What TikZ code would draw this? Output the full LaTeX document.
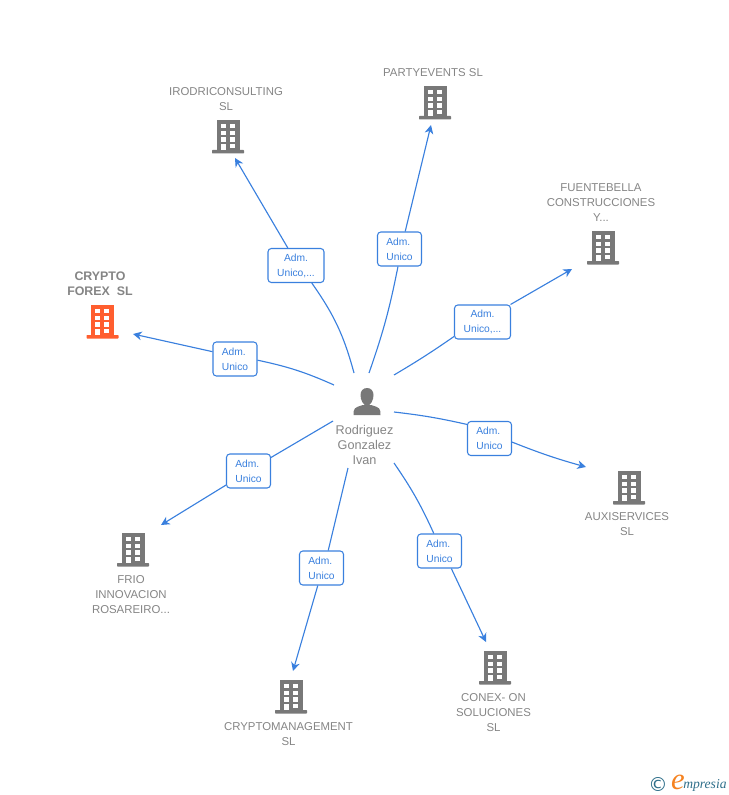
\documentclass[tikz,border=0pt]{standalone}
\usepackage{fontspec}
\setmainfont{Liberation Sans}
\newfontfamily\logofont{Liberation Serif}
\newfontfamily\copyfont{DejaVu Sans}
\usetikzlibrary{arrows.meta}
\definecolor{linkblue}{HTML}{3A80DE}
\definecolor{namegray}{HTML}{858585}
\definecolor{iconorange}{HTML}{FF5E2F}
\definecolor{icongray}{HTML}{787878}
\definecolor{logoteal}{HTML}{2F6F8A}
\definecolor{logoorange}{HTML}{F58220}
\tikzset{
  caption/.style={text=namegray, align=center, inner sep=0pt, font=\fontsize{8.55}{11.25}\selectfont},
  rolebox/.style={draw=linkblue, fill=white, rounded corners=2.5pt, line width=.8pt, text=linkblue, align=left,
    minimum height=25.5pt, minimum width=33pt, inner sep=0pt, font=\fontsize{7.7}{11.25}\selectfont},
  widebox/.style={rolebox, align=center, minimum width=42pt},
  link/.style={draw=linkblue, line width=.85pt},
  linkto/.style={link, -{Stealth[length=6.5pt,width=6.5pt,inset=2pt]}},
  bldg/.pic={
    \fill[pic actions] (-11.5,0) rectangle (11.5,32);
    \fill[pic actions, rounded corners=.5pt] (-16,30) rectangle (16,33.5);
    \foreach \wy in {4,10.7,17.3,24} {
      \fill[white] (-7.2,\wy) rectangle (-2.5,\wy+4.4);
      \fill[white] (1.8,\wy) rectangle (6.8,\wy+4.4);
    }
    \fill[white] (-7.2,24) rectangle (-2.5,30);
  }
}
\begin{document}
\begin{tikzpicture}[x=.75pt,y=-.75pt]
\useasboundingbox (0,0) rectangle (728,795);

% companies
\pic[fill=iconorange] at (102.5,305) {bldg};
\pic[fill=icongray] at (228,120) {bldg};
\pic[fill=icongray] at (435,86) {bldg};
\pic[fill=icongray] at (603,231) {bldg};
\pic[fill=icongray] at (629,471) {bldg};
\pic[fill=icongray] at (495,651) {bldg};
\pic[fill=icongray] at (291,680) {bldg};
\pic[fill=icongray] at (133,533) {bldg};

\node[caption, font=\bfseries\fontsize{9.3}{11.25}\selectfont] (crypto) at (100,284) {CRYPTO\\FOREX~~SL};
\node[caption] (irodri) at (226,99) {IRODRICONSULTING\\SL};
\node[caption] (party) at (433,72.5) {PARTYEVENTS SL};
\node[caption] (fuente) at (601,202.5) {FUENTEBELLA\\CONSTRUCCIONES\\Y...};
\node[caption] (aux) at (627,524) {AUXISERVICES\\SL};
\node[caption] (conex) at (493.5,712.5) {CONEX- ON\\SOLUCIONES\\SL};
\node[caption] (cmgmt) at (288.5,734) {CRYPTOMANAGEMENT\\SL};
\node[caption] (frio) at (131,594.5) {FRIO\\INNOVACION\\ROSAREIRO...};

% person
\fill[icongray] (353.5,415) .. controls (353.5,408) and (354.5,407.5) .. (363,405) -- (371,405) .. controls (379.5,407.5) and (380.5,408) .. (380.5,415) -- cycle;
\fill[icongray] (367,388) .. controls (371,388) and (373.5,391) .. (373.5,395) .. controls (373.5,400) and (371,405) .. (367,406) .. controls (363,405) and (360.5,400) .. (360.5,395) .. controls (360.5,391) and (363,388) .. (367,388) -- cycle;
\node[caption, font=\fontsize{9.5}{11.25}\selectfont] (person) at (364.5,444.5) {Rodriguez\\Gonzalez\\Ivan};

% roles
\node[rolebox] (cryptorole) at (235,359) {Adm.\\Unico};
\node[widebox] (irodrirole) at (296,265.5) {Adm.\\Unico,...};
\node[rolebox] (partyrole) at (399.5,249) {Adm.\\Unico};
\node[widebox] (fuenterole) at (482.5,322) {Adm.\\Unico,...};
\node[rolebox] (auxrole) at (489.5,438.5) {Adm.\\Unico};
\node[rolebox] (conexrole) at (439.5,551) {Adm.\\Unico};
\node[rolebox] (cmgmtrole) at (321.5,568) {Adm.\\Unico};
\node[rolebox] (friorole) at (248.5,471) {Adm.\\Unico};

% connector ends
\coordinate (cryptofrom) at (334,385);
\coordinate (irodrifrom) at (354,373);
\coordinate (partyfrom) at (369,373);
\coordinate (fuentefrom) at (394,375);
\coordinate (auxfrom) at (394,412);
\coordinate (conexfrom) at (394,463);
\coordinate (cmgmtfrom) at (348,468);
\coordinate (friofrom) at (333,421);
\coordinate (cryptoto) at (133,334);
\coordinate (irodrito) at (235,158);
\coordinate (partyto) at (431,125);
\coordinate (fuenteto) at (572,269);
\coordinate (auxto) at (586,467);
\coordinate (conexto) at (486,642);
\coordinate (cmgmtto) at (293,671);
\coordinate (frioto) at (161,525);

\draw[link] (cryptofrom) to[bend right=6] (cryptorole.-3);
\draw[linkto] (cryptorole.162) -- (cryptoto);
\draw[link] (irodrifrom) to[bend right=10] (irodrirole.-48);
\draw[linkto] (irodrirole.115) -- (irodrito);
\draw[link] (partyfrom) to[bend right=4] (partyrole.-95);
\draw[linkto] (partyrole.72) -- (partyto);
\draw[link] (fuentefrom) to[bend right=2] (fuenterole.-153);
\draw[linkto] (fuenterole.32) -- (fuenteto);
\draw[link] (auxfrom) to[bend left=3] (auxrole.148);
\draw[linkto] (auxrole.-9) to[bend right=3] (auxto);
\draw[link] (conexfrom) to[bend left=5] (conexrole.108);
\draw[linkto] (conexrole.-56) -- (conexto);
\draw[link] (cmgmtfrom) -- (cmgmtrole.69);
\draw[linkto] (cmgmtrole.-102) -- (cmgmtto);
\draw[link] (friofrom) -- (friorole.31);
\draw[linkto] (friorole.-148) -- (frioto);

% logo
\node[text=logoteal, inner sep=0pt, font=\copyfont\fontsize{14.5}{14.5}\selectfont] (logoc) at (658,784.5) {©};
\node[text=logoorange, inner sep=0pt, font=\logofont\itshape\fontsize{23}{23}\selectfont] (logoe) at (678,782.5) {e};
\node[text=logoteal, inner sep=0pt, anchor=west, font=\logofont\itshape\fontsize{10.2}{12}\selectfont] (logot) at (683,785) {mpresia};
\end{tikzpicture}
\end{document}
